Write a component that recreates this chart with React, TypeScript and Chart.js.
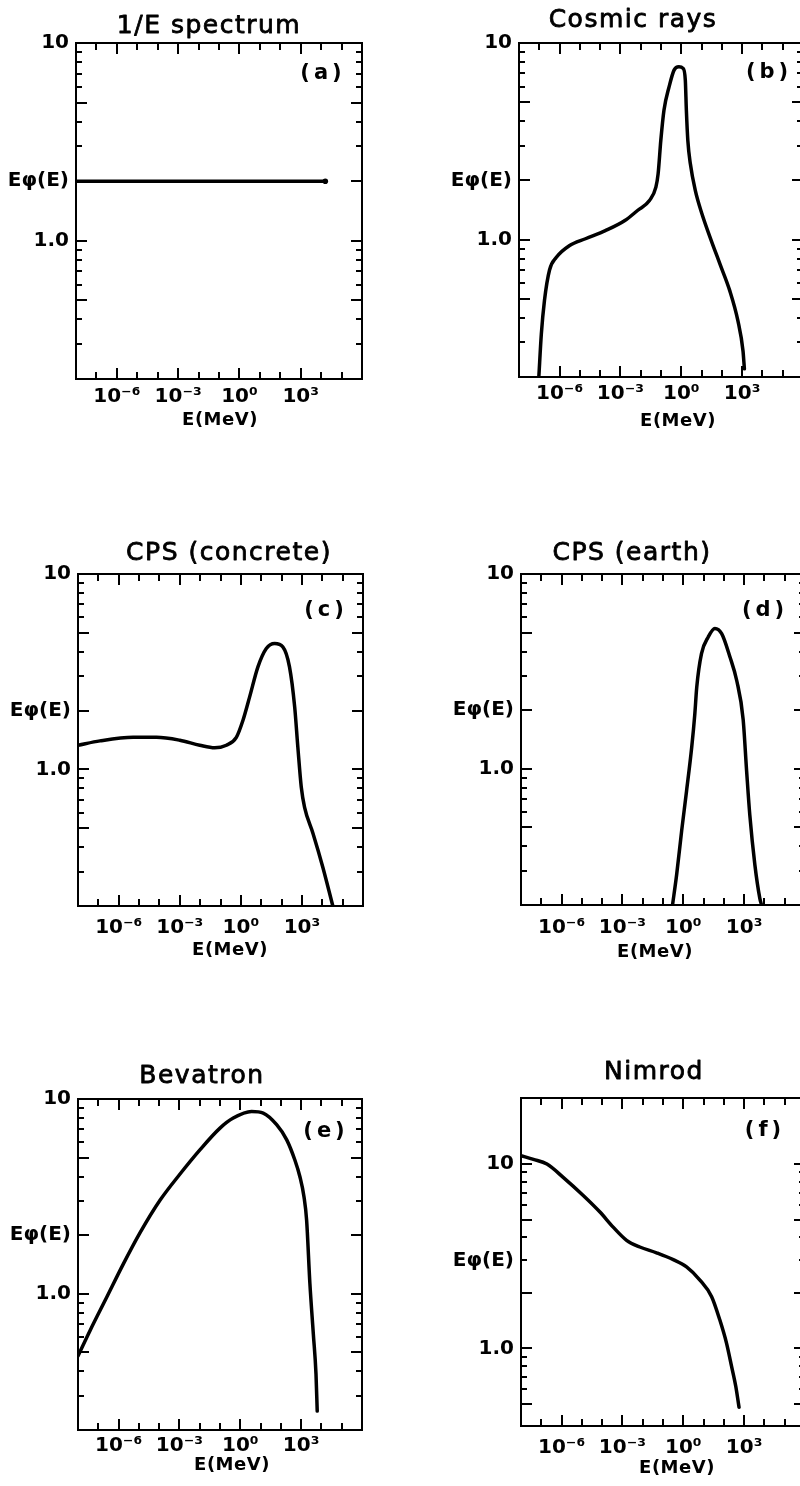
import { useEffect, useRef } from 'react';
import { Chart, registerables } from 'chart.js';

Chart.register(...registerables);

const INK = '#000';
const FONT = '"DejaVu Sans", "Liberation Sans", sans-serif';

// Energy axis, MeV (log scale)
const energyMin = 1e-8;
const energyMax = 1e6;
const energyTickValues = [1e-6, 1e-3, 1, 1e3];
const energyTickLabels = ['10⁻⁶', '10⁻³', '10⁰', '10³'];
const energyMarks = [1e-7, 1e-6, 1e-5, 1e-4, 1e-3, 1e-2, 1e-1, 1, 10, 100, 1e3, 1e4, 1e5];
const energyLongMarks = [1e-6, 1e-3, 1, 1e3];
const unitLabel = 'E(MeV)';

// Flux axis Eφ(E) (log scale)
const fluxLabel = 'Eφ(E)';
const fluxMarks = [0.3, 0.4, 0.5, 0.6, 0.7, 0.8, 0.9, 1, 2, 3, 4, 5, 6, 7, 8, 9];
const fluxMarksNimrod = [0.5, 0.6, 0.7, 0.8, 0.9, 1, 2, 3, 4, 5, 6, 7, 8, 9, 10];
const fluxLongMarks = [0.5, 1, 2, 5, 10];

// (a) 1/E spectrum
const flatEnergy = [1e-8, 1.6e4];
const flatFlux = [2, 2];

// (b) cosmic rays
const cosmicEnergy = [9.5e-8, 1.26e-7, 1.8e-7, 3.2e-7, 6.8e-7, 3.0e-6, 1.9e-5, 1.8e-4, 1.66e-3, 7.2e-3, 0.027, 0.056, 0.072, 0.098, 0.14, 0.25, 0.44, 0.76, 1.23, 1.58, 1.78, 2.1, 2.8, 4.9, 10.5, 26, 81, 245, 620, 1100, 1290];
const cosmicFlux = [0.2, 0.33, 0.49, 0.7, 0.81, 0.93, 1.01, 1.11, 1.25, 1.41, 1.58, 1.85, 2.16, 3.2, 4.55, 5.98, 7.28, 7.57, 7.43, 6.47, 4.55, 3.2, 2.43, 1.78, 1.35, 1.03, 0.75, 0.55, 0.386, 0.272, 0.22];

// (c) CPS, concrete shield
const concreteEnergy = [1e-8, 1.2e-7, 5.1e-6, 7.2e-5, 1e-3, 9.5e-3, 0.052, 0.195, 0.6, 1.26, 2.7, 6.9, 17.8, 46, 115, 245, 440, 630, 930, 1350, 3500, 1.07e4, 3.3e4];
const concreteFlux = [1.33, 1.4, 1.46, 1.46, 1.41, 1.33, 1.29, 1.33, 1.46, 1.78, 2.35, 3.35, 4.16, 4.41, 4.24, 3.35, 2.09, 1.3, 0.81, 0.64, 0.47, 0.315, 0.2];

// (d) CPS, earth shield
const earthEnergy = [0.295, 0.47, 0.83, 1.45, 2.6, 3.7, 4.6, 7.9, 17, 36, 78, 200, 430, 890, 1320, 1900, 3400, 5900, 7200];
const earthFlux = [0.2, 0.286, 0.48, 0.77, 1.29, 1.91, 2.62, 3.9, 4.75, 5.25, 4.94, 3.75, 2.84, 1.8, 0.98, 0.58, 0.32, 0.217, 0.2];

// (e) Bevatron
const bevatronEnergy = [1e-8, 3.9e-8, 2.6e-7, 1.7e-6, 1.15e-5, 1.1e-4, 1.07e-3, 0.0102, 0.1, 0.45, 3.6, 13.5, 62, 195, 490, 870, 1380, 1860, 2700, 4000, 5400, 6200];
const bevatronFlux = [0.48, 0.647, 0.96, 1.42, 2.06, 3.02, 4.12, 5.48, 7.09, 7.98, 8.63, 8.47, 7.38, 6.17, 4.86, 3.99, 3.15, 2.39, 1.13, 0.62, 0.387, 0.25];

// (f) Nimrod
const nimrodEnergy = [1e-8, 4.1e-8, 1.9e-7, 1.2e-6, 1.17e-5, 7.8e-5, 3.5e-4, 1.6e-3, 7.2e-3, 0.048, 0.32, 1.45, 6.6, 25, 63, 135, 240, 390, 560];
const nimrodFlux = [11.1, 10.6, 10.0, 8.47, 6.75, 5.49, 4.55, 3.86, 3.55, 3.3, 3.03, 2.77, 2.35, 1.91, 1.43, 1.07, 0.8, 0.62, 0.48];

// Layout: widths of the flux axis and energy axis boxes
const Y_AXIS_W = 70;
const X_AXIS_H = 30;

type Panel = {
  title: string;
  letter: string;
  energy: number[];
  flux: number[];
  fluxMin: number;
  fluxMax: number;
  fluxLabelAt: number;
  marks: number[];
  endDot: boolean;
  canvas: [number, number, number, number];
  frame: [number, number, number, number];
  titlePos: [number, number];
  letterPos: [number, number];
  unitPos: [number, number];
  xPad: number;
};

const panels: Panel[] = [
  {
    title: '1/E spectrum', letter: '(a)', energy: flatEnergy, flux: flatFlux,
    fluxMin: 0.2, fluxMax: 10, fluxLabelAt: 2, marks: fluxMarks, endDot: true,
    canvas: [0, 0, 400, 470], frame: [76, 43, 362, 379],
    titlePos: [133, -10], letterPos: [247, 31], unitPos: [144, 41], xPad: 6,
  },
  {
    title: 'Cosmic rays', letter: '(b)', energy: cosmicEnergy, flux: cosmicFlux,
    fluxMin: 0.2, fluxMax: 10, fluxLabelAt: 2, marks: fluxMarks, endDot: false,
    canvas: [400, 0, 420, 470], frame: [519, 43, 803, 377],
    titlePos: [114, -16], letterPos: [250, 30], unitPos: [159, 44], xPad: 5,
  },
  {
    title: 'CPS (concrete)', letter: '(c)', energy: concreteEnergy, flux: concreteFlux,
    fluxMin: 0.2, fluxMax: 10, fluxLabelAt: 2, marks: fluxMarks, endDot: false,
    canvas: [0, 490, 400, 500], frame: [78, 574, 363, 906],
    titlePos: [151, -14], letterPos: [248, 37], unitPos: [152, 44], xPad: 10,
  },
  {
    title: 'CPS (earth)', letter: '(d)', energy: earthEnergy, flux: earthFlux,
    fluxMin: 0.2, fluxMax: 10, fluxLabelAt: 2, marks: fluxMarks, endDot: false,
    canvas: [400, 490, 420, 500], frame: [521, 574, 805, 905],
    titlePos: [111, -14], letterPos: [244, 37], unitPos: [134, 47], xPad: 11,
  },
  {
    title: 'Bevatron', letter: '(e)', energy: bevatronEnergy, flux: bevatronFlux,
    fluxMin: 0.2, fluxMax: 10, fluxLabelAt: 2, marks: fluxMarks, endDot: false,
    canvas: [0, 1010, 400, 476], frame: [78, 1099, 362, 1430],
    titlePos: [124, -16], letterPos: [248, 33], unitPos: [154, 35], xPad: 4,
  },
  {
    title: 'Nimrod', letter: '(f)', energy: nimrodEnergy, flux: nimrodFlux,
    fluxMin: 0.38, fluxMax: 22.8, fluxLabelAt: 3, marks: fluxMarksNimrod, endDot: false,
    canvas: [400, 1010, 420, 476], frame: [521, 1098, 805, 1426],
    titlePos: [133, -19], letterPos: [244, 33], unitPos: [156, 42], xPad: 10,
  },
];

// Frame, inward tick marks on all four sides, title, panel letter and unit label
function decorPlugin(p: Panel) {
  return {
    id: 'spectrumDecor',
    afterDraw(chart: any) {
      const { ctx, chartArea: a } = chart;
      const xs = chart.scales.x;
      const ys = chart.scales.y;
      ctx.save();
      ctx.strokeStyle = INK;
      ctx.lineWidth = 2;
      ctx.strokeRect(a.left, a.top, a.right - a.left, a.bottom - a.top);
      ctx.beginPath();
      for (const v of p.marks) {
        const py = Math.round(ys.getPixelForValue(v));
        const len = fluxLongMarks.includes(v) ? 11 : 6;
        ctx.moveTo(a.left, py);
        ctx.lineTo(a.left + len, py);
        ctx.moveTo(a.right, py);
        ctx.lineTo(a.right - len, py);
      }
      for (const v of energyMarks) {
        const px = Math.round(xs.getPixelForValue(v));
        const len = energyLongMarks.includes(v) ? 11 : 7;
        ctx.moveTo(px, a.bottom);
        ctx.lineTo(px, a.bottom - len);
        ctx.moveTo(px, a.top);
        ctx.lineTo(px, a.top + len);
      }
      ctx.stroke();

      ctx.fillStyle = INK;
      ctx.textAlign = 'center';
      ctx.font = `25px ${FONT}`;
      ctx.letterSpacing = '1.5px';
      ctx.textBaseline = 'alphabetic';
      ctx.lineWidth = 0.8;
      ctx.lineJoin = 'round';
      const tx = a.left + p.titlePos[0];
      const ty = a.top + p.titlePos[1];
      ctx.fillText(p.title, tx, ty);
      ctx.strokeText(p.title, tx, ty);

      ctx.font = `bold 21px ${FONT}`;
      ctx.letterSpacing = '4px';
      ctx.textBaseline = 'middle';
      ctx.fillText(p.letter, a.left + p.letterPos[0], a.top + p.letterPos[1]);

      ctx.font = `bold 18px ${FONT}`;
      ctx.letterSpacing = '0.5px';
      ctx.fillText(unitLabel, a.left + p.unitPos[0], a.bottom + p.unitPos[1]);
      ctx.letterSpacing = '0px';
      ctx.restore();
    },
  };
}

function buildConfig(p: Panel): any {
  const [cx, cy, cw, ch] = p.canvas;
  const [fl, ft, fr, fb] = p.frame;
  const last = p.energy.length - 1;
  return {
    type: 'line',
    data: {
      datasets: [
        {
          data: p.energy.map((e, i) => ({ x: e, y: p.flux[i] })),
          borderColor: INK,
          borderWidth: 3.5,
          borderCapStyle: 'round',
          borderJoinStyle: 'round',
          cubicInterpolationMode: 'monotone',
          fill: false,
          pointRadius: p.energy.map((_, i) => (p.endDot && i === last ? 2.8 : 0)),
          pointBackgroundColor: INK,
          pointBorderWidth: 0,
        },
      ],
    },
    options: {
      animation: false,
      responsive: false,
      events: [],
      layout: {
        padding: {
          left: fl - cx - Y_AXIS_W,
          top: ft - cy,
          right: cx + cw - fr,
          bottom: cy + ch - fb - X_AXIS_H,
        },
      },
      plugins: {
        legend: { display: false },
        tooltip: { enabled: false },
        title: { display: false },
      },
      scales: {
        x: {
          type: 'logarithmic',
          min: energyMin,
          max: energyMax,
          bounds: 'data',
          grid: { display: false, drawTicks: false },
          border: { display: false },
          ticks: {
            autoSkip: false,
            maxRotation: 0,
            minRotation: 0,
            padding: p.xPad,
            color: INK,
            font: { family: FONT, size: 20, weight: 'bold' },
            callback: (v: number) => {
              const i = energyTickValues.indexOf(v);
              return i >= 0 ? energyTickLabels[i] : '';
            },
          },
          afterBuildTicks: (s: any) => {
            s.ticks = energyTickValues.map((v) => ({ value: v }));
          },
          afterFit: (s: any) => {
            s.height = X_AXIS_H;
          },
        },
        y: {
          type: 'logarithmic',
          min: p.fluxMin,
          max: p.fluxMax,
          bounds: 'data',
          grid: { display: false, drawTicks: false },
          border: { display: false },
          ticks: {
            autoSkip: false,
            padding: 7,
            color: INK,
            font: { family: FONT, size: 20, weight: 'bold' },
            callback: (v: number) => (v === 10 ? '10' : v === 1 ? '1.0' : v === p.fluxLabelAt ? fluxLabel : ''),
          },
          afterBuildTicks: (s: any) => {
            s.ticks = [1, p.fluxLabelAt, 10].map((v) => ({ value: v }));
          },
          afterFit: (s: any) => {
            s.width = Y_AXIS_W;
          },
        },
      },
    },
    plugins: [decorPlugin(p)],
  };
}

function SpectrumPanel({ p }: { p: Panel }) {
  const ref = useRef<HTMLCanvasElement>(null);
  useEffect(() => {
    const canvas = ref.current;
    if (!canvas) return;
    const chart = new Chart(canvas, buildConfig(p));
    return () => chart.destroy();
  }, [p]);
  const [x, y, w, h] = p.canvas;
  return (
    <canvas
      ref={ref}
      width={w}
      height={h}
      style={{ position: 'absolute', left: x, top: y, width: w, height: h }}
    />
  );
}

export default function App() {
  return (
    <div
      style={{
        position: 'absolute',
        left: 0,
        top: 0,
        width: 800,
        height: 1486,
        overflow: 'hidden',
        background: '#fff',
      }}
    >
      {panels.map((p) => (
        <SpectrumPanel key={p.letter} p={p} />
      ))}
    </div>
  );
}
